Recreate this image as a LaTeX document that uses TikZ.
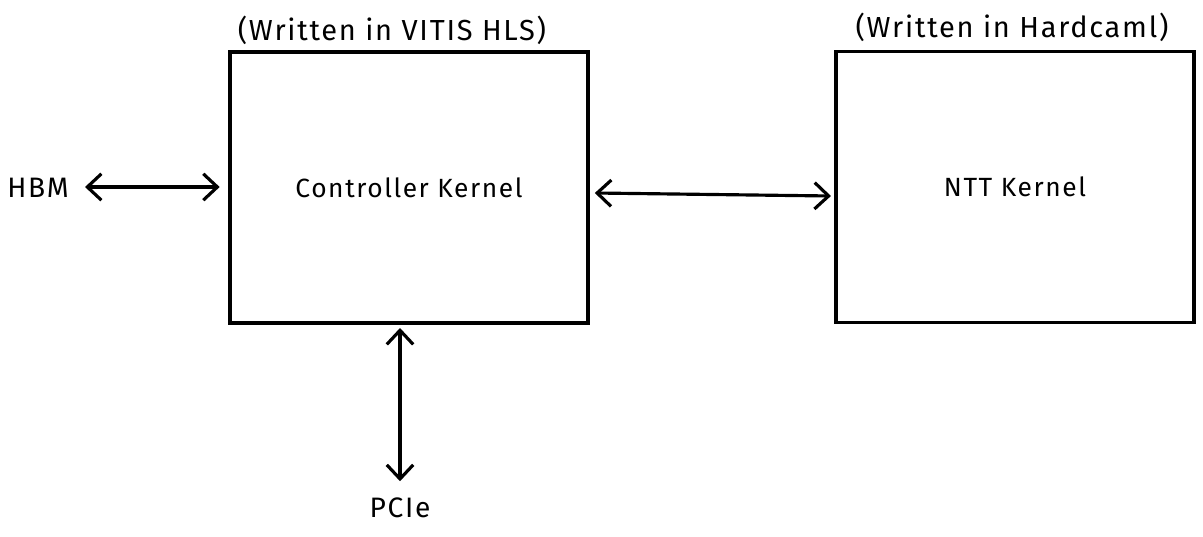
\documentclass[tikz,border=0pt]{standalone}
\usepackage{fontspec}
\setmainfont{Fira Sans}[LetterSpace=6]
\usetikzlibrary{arrows.meta,positioning}
\tikzset{
  kernel/.style={draw, line width=1.8pt, minimum width=7.16cm, minimum height=5.42cm, font=\fontsize{15}{18}\selectfont},
  note/.style={font=\fontsize{16.5}{19}\selectfont},
  port/.style={font=\fontsize{16}{19}\selectfont},
  link/.style={line width=1.8pt, {Straight Barb[length=8pt,width=15pt]}-{Straight Barb[length=8pt,width=15pt]}}
}
\begin{document}
\begin{tikzpicture}[x=0.02cm, y=-0.02cm]
  \useasboundingbox (0,0) rectangle (1203,537);
  \fill[white] (0,0) rectangle (1203,537);
  \node[kernel] (ctrl) at (409,187.5) {Controller Kernel};
  \node[kernel] (ntt) at (1015,187) {NTT Kernel};
  \node[note] (ctrlnote) at (392,30) {(Written in VITIS HLS)};
  \node[note] (nttnote) at (1012,27) {(Written in Hardcaml)};
  \node[port] (hbm) at (38,188) {HBM};
  \node[port] (pcie) at (400,508) {PCIe};
  % connectors
  \draw[link] (85,187) -- ([xshift=-5pt]ctrl.west |- 0,187);
  \draw[link] ([xshift=3pt]ctrl.east |- 0,193) -- ([xshift=-2pt]ntt.west |- 0,196);
  \draw[link] (400,328) -- ([yshift=6pt]pcie.north);
\end{tikzpicture}
\end{document}
